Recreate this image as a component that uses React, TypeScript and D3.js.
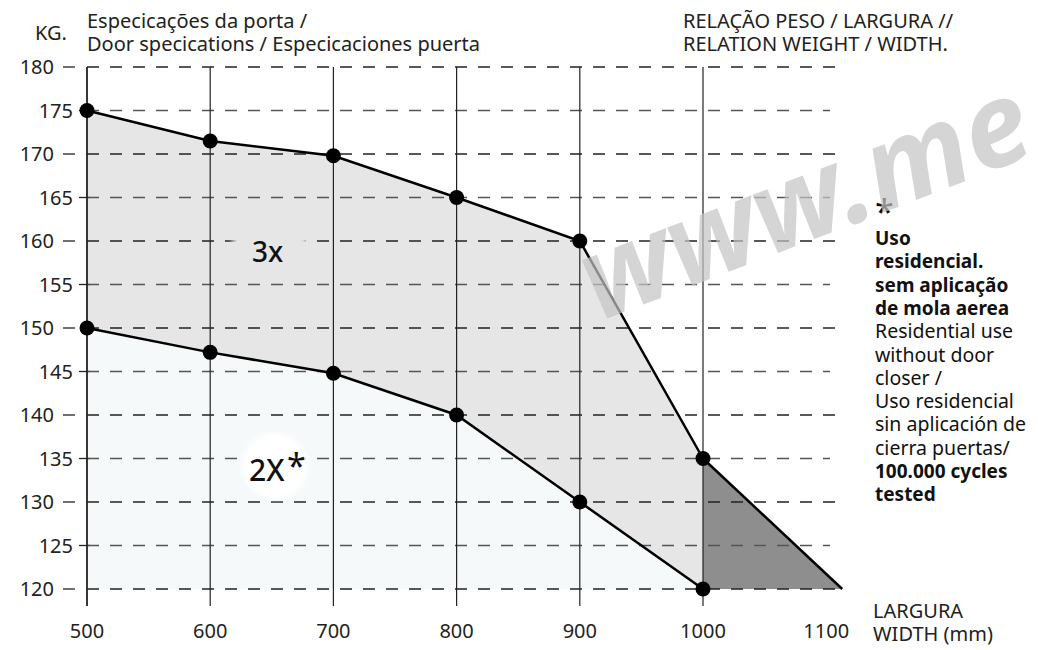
import React from 'react'
import * as d3 from 'd3'

// door width (mm) and max weight (kg)
const widths = [500, 600, 700, 800, 900, 1000]
const hinges3x = [175, 171.5, 169.8, 165, 160, 135]
const hinges2x = [150, 147.2, 144.8, 140, 130, 120]
const extraWidths = [1000, 1113]
const extraKg = [135, 120]

const xTicks = [500, 600, 700, 800, 900, 1000, 1100]
const gridX = [500, 600, 700, 800, 900, 1000]
const yTicks = [120, 125, 130, 135, 140, 145, 150, 155, 160, 165, 170, 175, 180]

const noteLines = [
  { t: 'Uso', b: true },
  { t: 'residencial.', b: true },
  { t: 'sem aplicação', b: true },
  { t: 'de mola aerea', b: true },
  { t: 'Residential use', b: false },
  { t: 'without door', b: false },
  { t: 'closer /', b: false },
  { t: 'Uso residencial', b: false },
  { t: 'sin aplicación de', b: false },
  { t: 'cierra puertas/', b: false },
  { t: '100.000 cycles', b: true },
  { t: 'tested', b: true },
]

const font = '"Noto Sans", "Open Sans", sans-serif'

const App = () => {
  const W = 1038
  const H = 650
  const x = d3.scaleLinear().domain([500, 1000]).range([87, 703])
  const y = d3.scaleLinear().domain([120, 180]).range([589, 67])

  const pts3 = widths.map((w, i) => [x(w), y(hinges3x[i])] as [number, number])
  const pts2 = widths.map((w, i) => [x(w), y(hinges2x[i])] as [number, number])
  const ext = extraWidths.map((w, i) => [x(w), y(extraKg[i])] as [number, number])

  const line = d3.line()
  const upperArea = line([...pts3, ...pts2.slice().reverse()]) + 'Z'
  const lowerArea = line([...pts2, [x(1000), y(120)], [x(500), y(120)]]) + 'Z'
  const tri = line([...ext, [x(1000), y(120)]]) + 'Z'

  return (
    <svg width={W} height={H} style={{ position: 'absolute', left: 0, top: 0, background: '#fff' }} fontFamily={font}>
      <defs>
        <filter id="soft" x="-50%" y="-50%" width="200%" height="200%">
          <feGaussianBlur stdDeviation="2.5" />
        </filter>
      </defs>

      {/* fills */}
      <path d={upperArea} fill="#e6e6e6" />
      <path d={lowerArea} fill="#f5f9fa" />
      <path d={tri} fill="#8e8e8e" />

      {/* horizontal dashed grid */}
      {yTicks.map(v => {
        const even = v % 10 === 0
        return (
          <g key={v}>
            <line x1={even ? 63 : 79} x2={even ? 75 : 90} y1={y(v)} y2={y(v)} stroke="#222" strokeWidth={1.3} />
            <line x1={x(500)} x2={even ? 846 : 830} y1={y(v)} y2={y(v)}
              stroke={even ? '#222' : '#555'} strokeWidth={1.3} strokeDasharray="12,11" />
            <text x={even ? 54 : 73} y={y(v) + 7} textAnchor="end" fontSize={20} fill="#222">{v}</text>
          </g>
        )
      })}

      {/* vertical grid */}
      {gridX.map(v => (
        <line key={v} x1={x(v)} x2={x(v)} y1={y(180)} y2={606} stroke="#222" strokeWidth={v === 500 ? 1.8 : 1.2} />
      ))}

      {/* soft halos behind labels */}
      <ellipse cx={270} cy={250} rx={40} ry={26} fill="#e6e6e6" filter="url(#soft)" />
      <circle cx={275} cy={466} r={33} fill="#fff" filter="url(#soft)" />

      {/* series lines */}
      <path d={line(pts3) || ''} fill="none" stroke="#000" strokeWidth={2.5} />
      <path d={line(pts2) || ''} fill="none" stroke="#000" strokeWidth={2.5} />
      <path d={line(ext) || ''} fill="none" stroke="#000" strokeWidth={2.5} />

      {[...pts3, ...pts2].map((p, i) => (
        <circle key={i} cx={p[0]} cy={p[1]} r={7.5} fill="#000" />
      ))}

      {/* area labels */}
      <text x={252} y={262} fontSize={28} fill="#111" fontWeight={500}>3x</text>
      <text x={249} y={481} fontSize={30} fill="#111" fontWeight={500}>2X</text>
      <text x={287} y={478} fontSize={34} fill="#111">*</text>

      {/* x axis labels */}
      {xTicks.map(v => (
        <text key={v} x={x(v)} y={638} textAnchor="middle" fontSize={20} fill="#222">{v}</text>
      ))}
      <text x={873} y={618} fontSize={20} fill="#222">LARGURA</text>
      <text x={873} y={641} fontSize={20} fill="#222">WIDTH (mm)</text>

      {/* headers */}
      <text x={35} y={40} fontSize={20} fill="#222">KG.</text>
      <text x={87} y={28} fontSize={20} fill="#222">Especicações da porta /</text>
      <text x={87} y={51} fontSize={20} fill="#222">Door specications / Especicaciones puerta</text>
      <text x={683} y={28} fontSize={20} fill="#222">RELAÇÃO PESO / LARGURA //</text>
      <text x={683} y={51} fontSize={20} fill="#222">RELATION WEIGHT / WIDTH.</text>

      {/* note */}
      <text x={875} y={224} fontSize={34} fill="#111">*</text>
      {noteLines.map((l, i) => (
        <text key={i} x={875} y={245 + i * 23.3} fontSize={l.b ? 19 : 19.5} fill="#111" fontWeight={l.b ? 700 : 400}>{l.t}</text>
      ))}

      {/* watermark */}
      <text transform="translate(598,322) rotate(-21)" fontSize={116} fontWeight={700} fontStyle="italic"
        fill="#c4c4c4" opacity={0.7}>www.me</text>
    </svg>
  )
}

export default App
